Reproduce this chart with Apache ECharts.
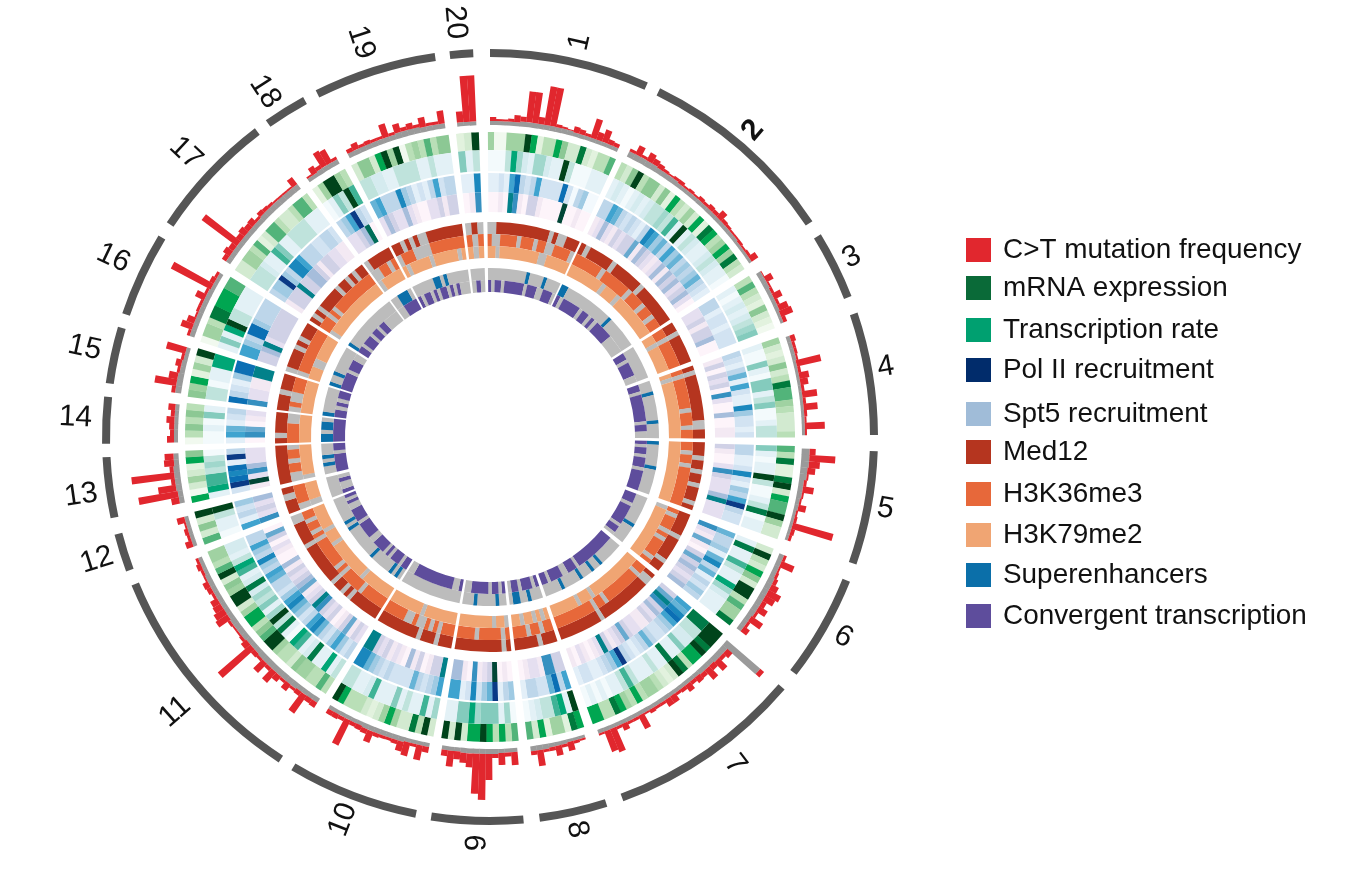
<!DOCTYPE html>
<html><head><meta charset="utf-8">
<style>html,body{margin:0;padding:0;background:#fff}#c{width:1353px;height:873px}</style>
<script src="https://cdn.jsdelivr.net/npm/echarts@6/dist/echarts.min.js"></script>
</head><body><div id="c"></div>
<script>
const chromNames=['1','2','3','4','5','6','7','8','9','10','11','12','13','14','15','16','17','18','19','20'];
const chromStart=[0,26,58.5,71.3,92.1,111.9,130.6,162.4,175,191.1,213,249.7,257.9,269,278,288.6,303.6,324.7,333.3,354];
const chromEnd=[24,56.2,68.7,89.7,109.2,127.8,159.9,172.6,188.8,210.8,247.5,255.4,267,276,286.5,301.3,322.7,331.2,351.8,357.5];
const labelAngle=[12.8,40.6,63.6,80,100.3,119.5,143.2,167.5,181.8,201,228.9,252.6,261.9,272.7,282.4,295.4,313,326.9,341.9,355.2];
const labelRadius=[405,404,404,402,402,406,409,402,406,410,418,412,413,415,415,417,416,412,415,416];

const mutation=[
[4,2,2,3,7,5,31,31,7,39,39,3,2,1,6,5,3,20,8,13,5,4],
[3,10,3,9,6,5,3,2,3,4,2,3,2,4,3,5,4,9,4,3,2,2,3,2,3,8],
[1,8,2,3,9,3,10,13,4],
[5,3,3,2,25,3,10,8,3,15,3,14,3,2,20,2],
[6,26,11,8,2,3,11,2,2,8,2,3,42,4,3],
[3,14,2,3,4,8,14,11,5,10,3,14,3,7],
[5,7,4,12,6,13,5,7,4,8,4,3,8,8,3,3,4,2,15,3,3,7,3,25,22,2],
[2,3,9,3,10,4,3,16,4],
[13,4,12,4,26,46,40,14,10,8,16,6],
[6,15,3,14,10,4,3,3,4,12,5,5,4,28,4,5,5],
[6,5,22,5,3,8,3,7,14,4,13,3,5,43,7,3,2,2,3,14,12,9,8,3,5,6,2,3,5,3],
[7,3,4,2,8],
[8,40,18,4,43,4,10,9],
[7,4,5,8,4,7],
[4,22,9,3,6,3,20],
[3,12,8,2,3,3,10,3,45,5,3],
[5,8,6,44,6,8,6,7,3,5,4,3,2,2,2,2,9],
[2,8,4,17,15,3],
[4,7,3,4,3,3,14,3,9,4,6,3,10,3,3,13],
[11,46,46]];
const background=[
[4,5,5,4,4],[6,5,4,4,4,3],[5,4,4,3],[4,3,3,3],[8,7,5,4,3,3],[5,6,6,5],
[44,6,6,6,5,5,5,4,4,4,4,4,4,4,4,4,4,4,4,4,4,4,4,4,4,4],
[3,4,5],[4,5,5,4],[4,5,5,4,4],[5,6,6,5,6,5,5,4],[4,4],[5,6,6,5],[4,4],[6,5,4],[5,5,4],[5,5,6,6],[4,5,5],[5,5,6,5],[4,4]];

const mrna=["400444971337522821336","32593552517324271873474832","363215210","4212523866432223","638118927669422","29327529936448","99989773892123443734783377","781441726","637379772929","29382247421233379","363344523349965377429945296344","62529","70242175","035353","5471429","04438877766","22443612663223663","149943","2552794903436355","129"];
const txRate=["000374214421193000111","12101212334361913211232110","101212345","1005105513500133","510119300138011","18116311742111","88332251181131113631101010","917633210","041555475511","41611315111621133","317118216701839415342821673122","01139","17663430","001051","3301177","15179331111","33321165113333111","015396","3322113333113111","513"];
const spt5=["112168323622228203400","33653232137645364534345321","331221222","3213516211742212","331127214369322","53341573513243","65786432235321239643211221","638522331","431954272166","64323522223234577","324642357632457642335634734633","61324","29878193","165123","8321488","66438843333","34494377633322332","346932","5633374312136233","117"];
const polII=["001076103310000900100","12421323351432124143423420","223133400","1303230620040011","310026322247222","62151035343234","35763423112235321372101201","336612210","010932160144","73310314012132377","231531032367321543231400120350","62324","19264222","065012","6221177","33472333333","13337334431332211","223480","2432242100223133","016"];

const med12=["001111111111110100111","10111110111111011111111","110111111","1011111111110011","111011011011101","11111011111011","10011111111111101111111111","111011111","101111111111","11101110111111111","111111101011011111111101111100","1101","11111111","101111","1110111","01111010111","10101111101101011","011111","1101010011111111","010"];
const h3k36=["100111101110110011110","11111101111110111011011","110111111","1011111110111011","110110111111111","10111010111101","11011111111101101111111111","110110111","101111101111","11101010010011111","111111011111010111111101011011","0111","00110110","111100","0100111","01111111111","11101011111111111","001101","0111000011111111","101"];
const h3k79=["110111111111100111111","11111111011101111111111","110111111","1011111111111111","111111111111111","01111111111111","11111111111111011101111111","101011011","011011111111","11111111011111111","111111110111111111101110111111","0111","01111111","111111","1111111","11100111111","01111111111111111","011111","1011111011111101","101"];
const superenh=["000000000001000010000","11000000000000001000000000","000000000","0001000000010000","100000010000000","00000000100000","00000001001000100000100000","000100110","001000001000","00000000000000000","010100000010000000001010000000","00000","00101000","110110","1000000","10010000000","10000000000000000","001110","0000001101000000","000"];
const convergent=["101101111110111001110","10111110110101111100000","110111100","1101111111101100","101101110111111","11101111110110","11111111111110111001111011","101110110","101101111100","10011111111111100","110111010111100111110111100101","10010","11111011","111111","1101011","11111011100","11011101101100000","001111","1011010110101000","010"];

const trackColors={mutation:'#e1272e',mrna:'#0a6a38',tx:'#00a070',pol:'#012c6b',spt:'#a0bcd8',med:'#b5351f',k36:'#e7683a',k79:'#f0a573',se:'#0b6fa9',conv:'#5e4d9c'};
const rampGreen=['#f1f9ef','#e2f2de','#d2ead0','#b9dfb7','#a0d2a2','#8cc894','#52b47a','#00a651','#007a3d','#00441b'];
const rampTeal=['#f3fafc','#e3f1f6','#d5ebef','#bfe3dc','#a0d7cc','#84cbbd','#3fb396','#00a676','#007a48','#00441b'];
const rampBlue=['#f3f9fd','#e3eff8','#d2e3f2','#bdd6ea','#9fcae3','#66b3d6','#3fa3cf','#1a87bd','#0b6fb4','#0a3a86'];
const rampPurple=['#fdf4fa','#f3e9f3','#e5dff0','#d0d1e6','#a6bddb','#67a9cf','#3690c0','#02818a','#016c59','#014636'];

function sectorItem(params,api,fill){
  const a0=api.value(0),a1=api.value(1),r0=api.value(2),r1=api.value(3);
  const cs=params.coordSys;
  const p0=api.coord([r1,a0]),p1=api.coord([r1,a1]);
  let s=Math.atan2(p0[1]-cs.cy,p0[0]-cs.cx),e=Math.atan2(p1[1]-cs.cy,p1[0]-cs.cx);
  if(e<s)e+=Math.PI*2;
  return {type:'sector',shape:{cx:cs.cx,cy:cs.cy,r0:r0,r:r1,startAngle:s,endAngle:e,clockwise:true},style:{fill:fill}};
}
function custom(name,color,data,fillOf){
  return {type:'custom',name:name,coordinateSystem:'polar',silent:true,clip:false,animation:false,
    itemStyle:{color:color},encode:{angle:0,radius:3},data:data,
    renderItem:(p,api)=>sectorItem(p,api,fillOf?fillOf(api):color)};
}
function rowsFor(track,rIn,rOut,pad){
  const rows=[];
  track.forEach((bins,c)=>{
    const a=chromStart[c]-pad,b=chromEnd[c]+pad,w=(b-a)/bins.length;
    let i=0;
    while(i<bins.length){
      let j=i+1;
      while(j<bins.length&&bins[j]===bins[i])j++;
      rows.push([a+i*w,a+j*w+(j<bins.length?0.06:0),rIn,rOut,Number(bins[i])]);
      i=j;
    }
  });
  return rows;
}
function heat(name,color,track,rIn,rOut,ramp){
  return custom(name,color,rowsFor(track,rIn,rOut,0.4),api=>ramp[api.value(4)]);
}
function flag(name,color,off,track,rIn,rOut){
  return custom(name,color,rowsFor(track,rIn,rOut,0.7),api=>api.value(4)?color:off);
}
const gray='#bcbcbc';
const bgRows=[],redRows=[];
const baseR=312;
mutation.forEach((bars,c)=>{
  const a=chromStart[c],w=(chromEnd[c]-a)/bars.length,g=background[c];
  bars.forEach((v,i)=>{
    const h=g[Math.floor(i*g.length/bars.length)];
    bgRows.push([a+i*w,a+(i+1)*w+(i<bars.length-1?0.06:0),baseR,baseR+h,h]);
    redRows.push([a+i*w,a+(i+1)*w+(i<bars.length-1?0.03:0),baseR+h,baseR+h+v,v]);
  });
});
const ringRows=chromNames.map((n,c)=>[chromStart[c],chromEnd[c],380,388,c]);
const labelRows=chromNames.map((n,c)=>[labelAngle[c],labelRadius[c],c]);

const series=[
  custom('background','#9a9a9a',bgRows),
  custom('C>T mutation frequency',trackColors.mutation,redRows),
  heat('mRNA expression',trackColors.mrna,mrna,287,305,rampGreen),
  heat('Transcription rate',trackColors.tx,txRate,266,287,rampTeal),
  heat('Spt5 recruitment',trackColors.spt,spt5,245,264,rampBlue),
  heat('Pol II recruitment',trackColors.pol,polII,225,245,rampPurple),
  flag('Med12',trackColors.med,gray,med12,203,215),
  flag('H3K36me3',trackColors.k36,gray,h3k36,191,203),
  flag('H3K79me2',trackColors.k79,gray,h3k79,179,191),
  flag('Superenhancers',trackColors.se,gray,superenh,157,169),
  flag('Convergent transcription',trackColors.conv,gray,convergent,145,157),
  custom('chromosomes','#555555',ringRows),
  {type:'custom',name:'labels',coordinateSystem:'polar',silent:true,clip:false,animation:false,
   encode:{angle:0,radius:1},data:labelRows,
   renderItem:(p,api)=>{
     const th=api.value(0),pt=api.coord([api.value(1),th]),n=chromNames[api.value(2)];
     const cw=th<=180?th-90:th-270;
     return {type:'text',x:pt[0],y:pt[1],rotation:-cw*Math.PI/180,
       style:{text:n,fill:'#111',align:'center',verticalAlign:'middle',
         font:(n==='2'?'bold ':'')+'30px "Liberation Sans"'}};
   }}
];
const legendRows=[
 ['C>T mutation frequency',238,2],['mRNA expression',277,3],['Transcription rate',316,0],['Pol II recruitment',357,1],
 ['Spt5 recruitment',400,0],['Med12',438,0],['H3K36me3',480,0],['H3K79me2',522,1],['Superenhancers',561,0],['Convergent transcription',602,0]];
const legends=legendRows.map(([name,top,shift])=>({
  left:966,top:top-shift,padding:0,itemWidth:25,itemHeight:24,icon:'rect',selectedMode:false,orient:'vertical',
  data:[{name:name,icon:'rect'}],
  textStyle:{fontFamily:'Liberation Sans',fontSize:27.9,color:'#111',padding:[0,0,2*shift,7]}
}));
const chart=echarts.init(document.getElementById('c'),null,{renderer:'canvas'});
chart.setOption({
  backgroundColor:'#ffffff',animation:false,tooltip:{show:false},
  polar:{center:[490,437],radius:[0,420]},
  angleAxis:{type:'value',min:0,max:360,startAngle:90,clockwise:true,show:false},
  radiusAxis:{type:'value',min:0,max:420,show:false},
  legend:legends,
  series:series
});
</script></body></html>
